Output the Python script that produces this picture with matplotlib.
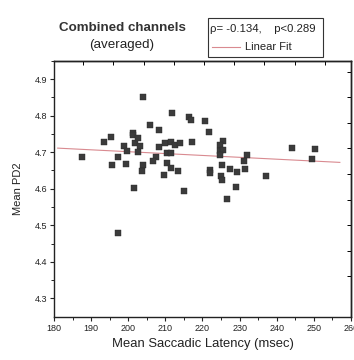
import numpy as np
import matplotlib
matplotlib.use('Agg')
import matplotlib.pyplot as plt
from matplotlib.patches import Rectangle
from matplotlib.lines import Line2D

plt.rcParams['font.family'] = ['Liberation Sans', 'DejaVu Sans']

# mean saccadic latency (msec) and mean PD2 for each subject
latency = [187.5, 193.6, 195.4, 195.5, 197.3, 197.2, 198.9, 199.6, 199.3, 201.3,
           201.4, 201.7, 202.6, 203.3, 202.5, 201.6, 204.1, 204.1, 203.6, 205.8,
           208.3, 208.2, 207.4, 206.7, 209.6, 209.8, 210.4, 211.5, 210.5, 211.5,
           211.8, 211.5, 212.7, 213.9, 213.5, 215.0, 216.4, 216.8, 217.3, 220.7,
           221.8, 225.5, 224.7, 224.6, 225.6, 224.7, 232.0, 231.2, 225.3, 222.0,
           222.1, 227.4, 229.4, 231.5, 225.0, 225.3, 229.1, 226.6, 237.2, 244.2,
           250.4, 249.5]
pd2 = [4.687, 4.729, 4.741, 4.666, 4.686, 4.479, 4.717, 4.703, 4.668, 4.752,
       4.747, 4.726, 4.739, 4.717, 4.701, 4.602, 4.852, 4.664, 4.648, 4.775,
       4.760, 4.713, 4.687, 4.677, 4.637, 4.724, 4.699, 4.699, 4.669, 4.656,
       4.808, 4.729, 4.720, 4.724, 4.648, 4.594, 4.795, 4.788, 4.727, 4.784,
       4.756, 4.731, 4.719, 4.703, 4.705, 4.692, 4.692, 4.677, 4.666, 4.652,
       4.643, 4.654, 4.647, 4.655, 4.635, 4.624, 4.604, 4.571, 4.634, 4.711,
       4.709, 4.681]

# linear fit end points
fit_x = [181.0, 257.0]
fit_y = [4.711, 4.672]

stats_text = 'ρ= -0.134,    p<0.289'

fig = plt.figure(figsize=(3.54, 3.60), dpi=100)
ax = fig.add_axes([0.1525, 0.1203, 0.839, 0.711])

ax.plot(fit_x, fit_y, color='#d98a90', linewidth=0.8, zorder=2)
ax.scatter(latency, pd2, marker='s', s=15, color='#3b3b3b', edgecolors='#2a2a2a',
           linewidths=0.3, zorder=3)

ax.set_xlim(180, 260)
ax.set_ylim(4.25, 4.95)
ax.set_xticks(np.arange(180, 261, 10))
ax.set_xticks(np.arange(185, 260, 10), minor=True)
ax.set_yticks(np.arange(4.3, 4.91, 0.1))
ax.set_yticks(np.arange(4.35, 4.95, 0.1), minor=True)
ax.set_xticklabels(['180', '190', '200', '210', '220', '230', '240', '250', '260'])
ax.set_yticklabels(['4.3', '4.4', '4.5', '4.6', '4.7', '4.8', '4.9'])
ax.tick_params(axis='both', which='major', direction='out', length=3, width=0.8,
               labelsize=6.5, colors='#222222', pad=2)
ax.tick_params(axis='both', which='minor', direction='out', length=2, width=0.6)

# top and right axes have their own tick spacing
top = ax.secondary_xaxis('top')
top.set_xticks(np.arange(187.9, 255, 8.13))
top.tick_params(direction='in', length=3, width=0.7, labeltop=False)
right = ax.secondary_yaxis('right')
right.set_yticks(np.arange(4.36, 4.95, 0.07))
right.tick_params(direction='in', length=3, width=0.7, labelright=False)

for s in ['left', 'bottom', 'top', 'right']:
    ax.spines[s].set_linewidth(1.0)
    ax.spines[s].set_color('#222222')
top.spines['top'].set_linewidth(1.0)
right.spines['right'].set_linewidth(1.0)

ax.set_xlabel('Mean Saccadic Latency (msec)', fontsize=9.4, color='#222222', labelpad=4)
ax.set_ylabel('Mean PD2', fontsize=8, color='#222222', labelpad=8)

fig.text(122 / 354, 1 - 28 / 360, 'Combined channels', ha='center', va='center',
         fontsize=9.6, fontweight='bold', color='#333333')
fig.text(122 / 354, 1 - 45 / 360, '(averaged)', ha='center', va='center',
         fontsize=9.6, color='#222222')

# legend box
fig.patches.append(Rectangle((208 / 354, 1 - 57 / 360), 115 / 354, 39 / 360,
                             transform=fig.transFigure, fill=False,
                             edgecolor='#333333', linewidth=0.8))
fig.text(210 / 354, 1 - 29 / 360, stats_text, ha='left', va='center',
         fontsize=8.2, color='#222222')
fig.lines.append(Line2D([212 / 354, 240 / 354], [1 - 47 / 360, 1 - 47 / 360],
                        transform=fig.transFigure, color='#d98a90', linewidth=0.8))
fig.text(245 / 354, 1 - 47 / 360, 'Linear Fit', ha='left', va='center',
         fontsize=8, color='#222222')

fig.savefig('out.png', dpi=100)
